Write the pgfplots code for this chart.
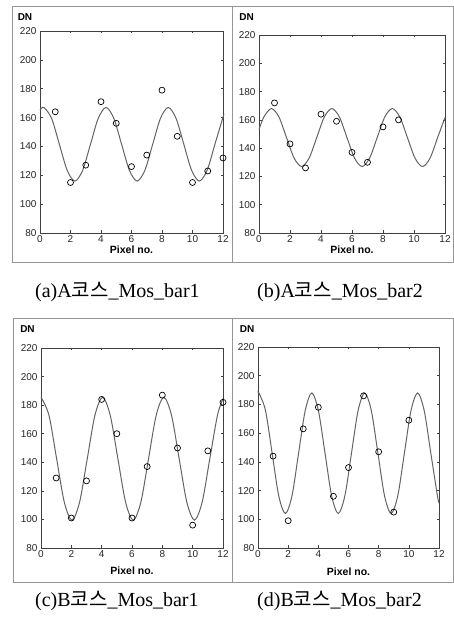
\documentclass[border=0pt]{standalone}
\usepackage{fontspec}
\setmainfont{Liberation Sans}
\newfontfamily\capfont{Liberation Serif}
\newfontfamily\krfont{Noto Sans CJK KR}
\usepackage{pgfplots}
\pgfplotsset{compat=1.18}

\definecolor{fitline}{RGB}{100,100,100}
\definecolor{frameg}{RGB}{150,150,150}

\pgfplotsset{
  panel/.style={
    scale only axis, anchor=south west,
    xmin=0, xmax=12, ymin=80, ymax=220,
    xtick={0,2,...,12}, ytick={80,100,...,220},
    tick align=inside, major tick length=2.5pt,
    axis line style={draw=black!75, line width=0.8pt},
    tick style={draw=black!75, line width=0.6pt},
    ticklabel style={font=\fontsize{10}{12}\selectfont, text=black!85},
    xticklabel style={yshift=1pt},
    /pgf/number format/assume math mode=true,
    clip=false,
    every axis x label/.style={at={(axis description cs:0.5,0)}, anchor=center},
    every axis y label/.style={at={(axis description cs:0,1)}, anchor=center},
    xlabel={\fontsize{10.5}{12}\selectfont\bfseries Pixel no.},
    ylabel={\fontsize{10}{12}\selectfont\bfseries DN},
  },
  labshift/.style n args={3}{
    every axis x label/.append style={yshift=#1},
    every axis y label/.append style={xshift=#2, yshift=#3},
  },
  fit/.style={color=fitline, line width=1pt, smooth, no marks},
  obs/.style={only marks, mark=o, mark size=3pt, mark options={draw=black, line width=0.7pt}},
}

\begin{document}
\begin{tikzpicture}
\useasboundingbox (0pt,0pt) rectangle (454pt,618pt);

% frames
\draw[frameg, line width=0.8pt] (12pt,356pt) rectangle (453pt,612pt);
\draw[frameg, line width=0.8pt] (232pt,356pt) -- (232pt,612pt);
\draw[frameg, line width=0.8pt] (13pt,36pt) rectangle (453pt,300pt);
\draw[frameg, line width=0.8pt] (232pt,36pt) -- (232pt,300pt);

% (a)
\begin{axis}[panel, labshift={-17pt}{-15pt}{14pt}, at={(40pt,385pt)}, width=183pt, height=202pt]
\addplot[fit] coordinates {
 (0,165.1) (0.25,167) (0.76,159.5) (1.27,141.5) (1.78,123.5) (2.29,116)
 (2.80,123.5) (3.31,141.5) (3.82,159.5) (4.33,167) (4.84,159.5) (5.35,141.5)
 (5.86,123.5) (6.37,116) (6.88,123.5) (7.39,141.5) (7.90,159.5) (8.41,167)
 (8.92,159.5) (9.43,141.5) (9.94,123.5) (10.45,116) (10.96,123.5) (11.47,141.5)
 (11.98,159.5) (12,160)};
\addplot[obs] coordinates {
 (1,164) (2,115) (3,127) (4,171) (5,156) (6,126) (7,134) (8,179)
 (9,147) (10,115) (11,123) (12,132)};
\end{axis}

% (b)
\begin{axis}[panel, labshift={-17pt}{-12.5pt}{18pt}, at={(259pt,385pt)}, width=186pt, height=198pt]
\addplot[fit] coordinates {
 (0,153.2) (0.3125,162) (0.8,168) (1.2875,162) (1.775,147.5) (2.2625,133)
 (2.75,127) (3.2375,133) (3.725,147.5) (4.2125,162) (4.7,168) (5.1875,162)
 (5.675,147.5) (6.1625,133) (6.65,127) (7.1375,133) (7.625,147.5) (8.1125,162)
 (8.6,168) (9.0875,162) (9.575,147.5) (10.0625,133) (10.55,127) (11.0375,133)
 (11.525,147.5) (12,161.7)};
\addplot[obs] coordinates {
 (1,172) (2,143) (3,126) (4,164) (5,159) (6,137) (7,130) (8,155) (9,160)};
\end{axis}

% (c)
\begin{axis}[panel, labshift={-23pt}{-13.5pt}{19pt}, at={(41pt,70pt)}, width=182pt, height=200pt]
\addplot[fit] coordinates {
 (0,185.5) (0.525,172.9) (1.03,142.5) (1.535,112.1) (2.04,99.5) (2.545,112.1)
 (3.05,142.5) (3.555,172.9) (4.06,185.5) (4.565,172.9) (5.07,142.5) (5.575,112.1)
 (6.08,99.5) (6.585,112.1) (7.09,142.5) (7.595,172.9) (8.10,185.5) (8.605,172.9)
 (9.11,142.5) (9.615,112.1) (10.12,99.5) (10.625,112.1) (11.13,142.5) (11.635,172.9)
 (12,184.5)};
\addplot[obs] coordinates {
 (1,129) (2,101) (3,127) (4,184) (5,160) (6,101) (7,137) (8,187)
 (9,150) (10,96) (11,148) (12,182)};
\end{axis}

% (d)
\begin{axis}[panel, labshift={-24pt}{-11pt}{18pt}, at={(258pt,70pt)}, width=181pt, height=201pt]
\addplot[fit] coordinates {
 (0,187.8) (0.06,188) (0.498,175.7) (0.937,146) (1.375,116.3) (1.813,104)
 (2.252,116.3) (2.69,146) (3.129,175.7) (3.567,188) (4.005,175.7) (4.444,146)
 (4.882,116.3) (5.32,104) (5.759,116.3) (6.197,146) (6.636,175.7) (7.074,188)
 (7.512,175.7) (7.951,146) (8.389,116.3) (8.828,104) (9.266,116.3) (9.704,146)
 (10.143,175.7) (10.581,188) (11.019,175.7) (11.458,146) (11.896,116.3) (12,111.3)};
\addplot[obs] coordinates {
 (1,144) (2,99) (3,163) (4,178) (5,116) (6,136) (7,186) (8,147) (9,105) (10,169)};
\end{axis}

% captions
\node[anchor=base west, inner sep=0pt] at (35pt,320.5pt)
  {\capfont\fontsize{20}{24}\selectfont (a)A{\krfont 코스}\_Mos\_bar1};
\node[anchor=base west, inner sep=0pt] at (257pt,320.5pt)
  {\capfont\fontsize{20}{24}\selectfont (b)A{\krfont 코스}\_Mos\_bar2};
\node[anchor=base west, inner sep=0pt] at (35pt,11pt)
  {\capfont\fontsize{20}{24}\selectfont (c)B{\krfont 코스}\_Mos\_bar1};
\node[anchor=base west, inner sep=0pt] at (257pt,11pt)
  {\capfont\fontsize{20}{24}\selectfont (d)B{\krfont 코스}\_Mos\_bar2};
\end{tikzpicture}
\end{document}
